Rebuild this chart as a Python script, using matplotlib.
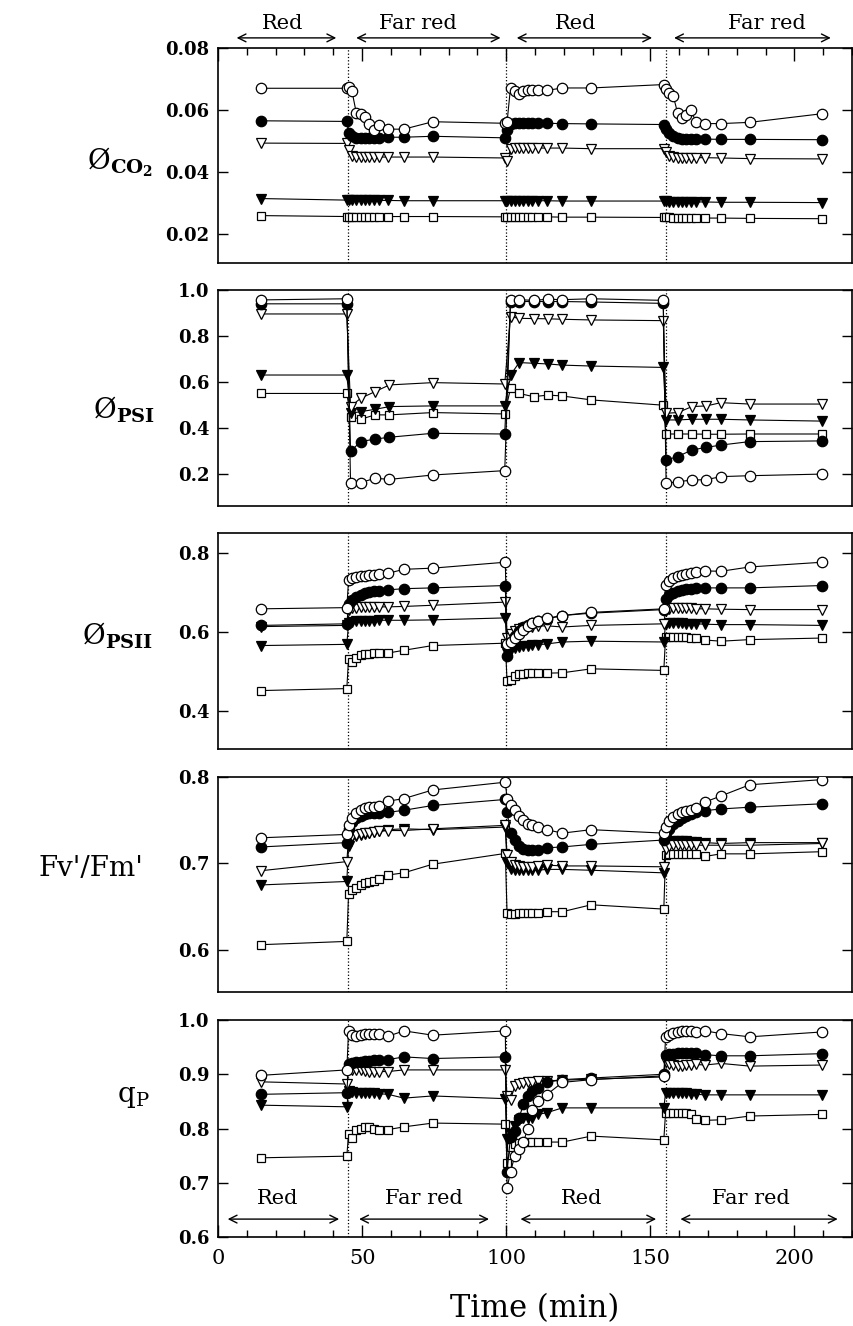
import matplotlib
matplotlib.use("Agg")
from matplotlib import pyplot as plt
from matplotlib.ticker import MultipleLocator

plt.rcParams['font.family'] = ['DejaVu Serif']
plt.rcParams['mathtext.fontset'] = 'dejavuserif'

# measurement times (min) - dense sampling (CO2 and fluorescence)
t = [15, 44.7,
     45.3, 46.5, 48, 49.5, 51, 52.5, 54, 56, 59, 64.5, 74.5, 99.7,
     100.3, 101.5, 103, 104.5, 106, 107.5, 109, 111, 114, 119.5, 129.5, 154.7,
     155.3, 156.5, 158, 159.5, 161, 162.5, 164, 166, 169, 174.5, 184.5, 209.7]

# sparse sampling for PSI
t_psi = [15, 44.7,
         46, 49.5, 54.5, 59.5, 74.5, 99.5,
         101.5, 104.5, 109.5, 114.5, 119.5, 129.5, 154.5,
         155.5, 159.5, 164.5, 169.5, 174.5, 184.5, 209.5]

switches = [45, 100, 155.5]

# --- Ø CO2 ---
co2_oc = [0.067, 0.067,
          0.0675, 0.066, 0.059, 0.0587, 0.0578, 0.0555, 0.0535, 0.0552, 0.0538, 0.0538, 0.0562, 0.0557,
          0.056, 0.0672, 0.066, 0.065, 0.066, 0.0663, 0.0666, 0.0665, 0.0663, 0.0671, 0.0671, 0.0682,
          0.0668, 0.0655, 0.0644, 0.059, 0.0574, 0.0585, 0.06, 0.056, 0.0556, 0.0556, 0.056, 0.0588]
co2_fc = [0.0565, 0.0563,
          0.0525, 0.0515, 0.051, 0.051, 0.051, 0.051, 0.051, 0.051, 0.0512, 0.0512, 0.0515, 0.051,
          0.0535, 0.0555, 0.0558, 0.0558, 0.0558, 0.0558, 0.0558, 0.0558, 0.0557, 0.0556, 0.0555, 0.0553,
          0.054, 0.0525, 0.0515, 0.051, 0.0507, 0.0506, 0.0506, 0.0506, 0.0506, 0.0505, 0.0505, 0.0504]
co2_ot = [0.0493, 0.0492,
          0.047, 0.045, 0.0447, 0.0447, 0.0447, 0.0447, 0.0447, 0.0448, 0.0448, 0.0448, 0.0448, 0.0445,
          0.0435, 0.0475, 0.0477, 0.0477, 0.0477, 0.0477, 0.0477, 0.0477, 0.0477, 0.0477, 0.0475, 0.0475,
          0.0465, 0.045, 0.0447, 0.0446, 0.0446, 0.0446, 0.0446, 0.0446, 0.0446, 0.0445, 0.0443, 0.0442]
co2_ft = [0.0314, 0.0309,
          0.0309, 0.0308, 0.0308, 0.0308, 0.0308, 0.0308, 0.0308, 0.0308, 0.0308, 0.0307, 0.0307, 0.0307,
          0.0307, 0.0307, 0.0307, 0.0307, 0.0307, 0.0307, 0.0307, 0.0307, 0.0307, 0.0306, 0.0306, 0.0306,
          0.0305, 0.0304, 0.0304, 0.0304, 0.0303, 0.0303, 0.0303, 0.0303, 0.0303, 0.0302, 0.0302, 0.0301]
co2_os = [0.0259, 0.0256,
          0.0256, 0.0256, 0.0256, 0.0256, 0.0256, 0.0256, 0.0256, 0.0256, 0.0256, 0.0256, 0.0256, 0.0255,
          0.0255, 0.0255, 0.0255, 0.0255, 0.0255, 0.0255, 0.0255, 0.0255, 0.0255, 0.0254, 0.0254, 0.0253,
          0.0253, 0.0253, 0.0252, 0.0252, 0.0252, 0.0252, 0.0252, 0.0252, 0.0251, 0.0251, 0.025, 0.0249]

# --- Ø PSI ---
psi_oc = [0.957, 0.962, 0.161, 0.164, 0.183, 0.178, 0.197, 0.216,
          0.955, 0.958, 0.955, 0.96, 0.958, 0.962, 0.955,
          0.161, 0.168, 0.175, 0.177, 0.19, 0.194, 0.201]
psi_fc = [0.94, 0.94, 0.30, 0.342, 0.353, 0.361, 0.378, 0.375,
          0.95, 0.95, 0.95, 0.95, 0.95, 0.948, 0.942,
          0.262, 0.277, 0.306, 0.317, 0.327, 0.342, 0.345]
psi_ot = [0.896, 0.896, 0.494, 0.53, 0.559, 0.588, 0.598, 0.592,
          0.884, 0.877, 0.876, 0.875, 0.873, 0.87, 0.867,
          0.465, 0.468, 0.494, 0.497, 0.511, 0.505, 0.505]
psi_ft = [0.631, 0.631, 0.465, 0.472, 0.482, 0.494, 0.497, 0.497,
          0.631, 0.685, 0.682, 0.679, 0.674, 0.67, 0.664,
          0.436, 0.436, 0.439, 0.439, 0.439, 0.436, 0.431]
psi_os = [0.551, 0.551, 0.45, 0.439, 0.458, 0.458, 0.468, 0.462,
          0.573, 0.551, 0.537, 0.544, 0.54, 0.523, 0.50,
          0.375, 0.375, 0.375, 0.374, 0.374, 0.375, 0.375]

# --- Ø PSII ---
psii_oc = [0.659, 0.662,
           0.732, 0.737, 0.74, 0.742, 0.743, 0.744, 0.745, 0.746, 0.749, 0.759, 0.762, 0.777,
           0.57, 0.575, 0.585, 0.595, 0.605, 0.615, 0.622, 0.628, 0.635, 0.642, 0.65, 0.659,
           0.72, 0.73, 0.737, 0.742, 0.745, 0.748, 0.75, 0.752, 0.755, 0.754, 0.765, 0.777]
psii_fc = [0.617, 0.621,
           0.67, 0.682, 0.688, 0.694, 0.698, 0.701, 0.703, 0.705, 0.707, 0.71, 0.712, 0.718,
           0.54, 0.575, 0.59, 0.604, 0.612, 0.617, 0.622, 0.628, 0.633, 0.642, 0.648, 0.657,
           0.685, 0.695, 0.70, 0.704, 0.707, 0.709, 0.71, 0.711, 0.712, 0.712, 0.712, 0.718]
psii_ot = [0.614, 0.617,
           0.655, 0.66, 0.662, 0.663, 0.663, 0.663, 0.664, 0.664, 0.664, 0.665, 0.668, 0.676,
           0.585, 0.596, 0.603, 0.607, 0.61, 0.612, 0.613, 0.615, 0.616, 0.613, 0.617, 0.621,
           0.655, 0.658, 0.66, 0.66, 0.66, 0.66, 0.66, 0.659, 0.659, 0.658, 0.657, 0.657]
psii_ft = [0.566, 0.569,
           0.622, 0.626, 0.627, 0.628, 0.628, 0.629, 0.629, 0.63, 0.63, 0.63, 0.631, 0.636,
           0.548, 0.555, 0.56, 0.562, 0.564, 0.566, 0.567, 0.568, 0.57, 0.575, 0.577, 0.575,
           0.62, 0.622, 0.622, 0.622, 0.622, 0.621, 0.621, 0.621, 0.62, 0.619, 0.619, 0.617]
psii_os = [0.452, 0.457,
           0.533, 0.524, 0.535, 0.542, 0.545, 0.545, 0.546, 0.546, 0.547, 0.554, 0.566, 0.572,
           0.476, 0.479, 0.49, 0.494, 0.495, 0.496, 0.496, 0.496, 0.496, 0.497, 0.507, 0.503,
           0.587, 0.587, 0.587, 0.587, 0.587, 0.587, 0.586, 0.585, 0.58, 0.577, 0.581, 0.585]

# --- Fv'/Fm' ---
fvfm_oc = [0.7296, 0.7335,
           0.744, 0.752, 0.758, 0.762, 0.764, 0.765, 0.765, 0.766, 0.772, 0.775, 0.785, 0.794,
           0.775, 0.768, 0.762, 0.755, 0.75, 0.746, 0.744, 0.742, 0.739, 0.735, 0.739, 0.735,
           0.742, 0.749, 0.754, 0.757, 0.759, 0.761, 0.762, 0.764, 0.771, 0.778, 0.791, 0.797]
fvfm_fc = [0.719, 0.724,
           0.74, 0.748, 0.752, 0.755, 0.757, 0.758, 0.758, 0.758, 0.759, 0.7615, 0.767, 0.774,
           0.76, 0.735, 0.727, 0.72, 0.717, 0.715, 0.715, 0.716, 0.718, 0.719, 0.722, 0.727,
           0.735, 0.74, 0.745, 0.749, 0.752, 0.755, 0.757, 0.759, 0.761, 0.763, 0.765, 0.769]
fvfm_ot = [0.6915, 0.702,
           0.729, 0.732, 0.733, 0.734, 0.735, 0.735, 0.736, 0.737, 0.738, 0.738, 0.74, 0.744,
           0.71, 0.702, 0.698, 0.697, 0.696, 0.696, 0.696, 0.697, 0.698, 0.697, 0.697, 0.696,
           0.717, 0.72, 0.721, 0.721, 0.721, 0.721, 0.721, 0.721, 0.721, 0.721, 0.721, 0.723]
fvfm_ft = [0.675, 0.679,
           0.72, 0.73, 0.732, 0.733, 0.734, 0.735, 0.736, 0.737, 0.739, 0.74, 0.739, 0.742,
           0.70, 0.694, 0.692, 0.692, 0.692, 0.692, 0.692, 0.692, 0.693, 0.693, 0.692, 0.689,
           0.72, 0.725, 0.726, 0.726, 0.726, 0.726, 0.725, 0.725, 0.724, 0.723, 0.724, 0.724]
fvfm_os = [0.6058, 0.6096,
           0.665, 0.669, 0.672, 0.675, 0.677, 0.678, 0.68, 0.682, 0.6865, 0.689, 0.699, 0.7115,
           0.643, 0.641, 0.641, 0.642, 0.642, 0.643, 0.643, 0.643, 0.644, 0.644, 0.652, 0.647,
           0.71, 0.711, 0.711, 0.711, 0.711, 0.711, 0.711, 0.711, 0.708, 0.711, 0.711, 0.7135]

# --- qP ---
qp_oc = [0.898, 0.908,
         0.98, 0.972, 0.971, 0.973, 0.974, 0.975, 0.974, 0.975, 0.97, 0.98, 0.972, 0.98,
         0.69, 0.72, 0.75, 0.762, 0.775, 0.80, 0.835, 0.85, 0.862, 0.885, 0.89, 0.897,
         0.968, 0.972, 0.976, 0.978, 0.979, 0.979, 0.979, 0.978, 0.98, 0.975, 0.969, 0.978]
qp_fc = [0.863, 0.866,
         0.918, 0.921, 0.922, 0.923, 0.924, 0.925, 0.926, 0.927, 0.927, 0.932, 0.929, 0.932,
         0.72, 0.785, 0.795, 0.82, 0.845, 0.86, 0.87, 0.875, 0.885, 0.89, 0.893, 0.90,
         0.935, 0.937, 0.938, 0.939, 0.939, 0.939, 0.939, 0.939, 0.936, 0.934, 0.934, 0.938]
qp_ot = [0.886, 0.882,
         0.91, 0.908, 0.907, 0.907, 0.906, 0.905, 0.905, 0.905, 0.905, 0.908, 0.908, 0.908,
         0.86, 0.853, 0.878, 0.882, 0.884, 0.885, 0.886, 0.887, 0.888, 0.889, 0.891, 0.895,
         0.923, 0.919, 0.917, 0.916, 0.916, 0.917, 0.917, 0.918, 0.917, 0.92, 0.915, 0.917]
qp_ft = [0.843, 0.84,
         0.87, 0.867, 0.866, 0.866, 0.866, 0.866, 0.865, 0.864, 0.863, 0.856, 0.86, 0.855,
         0.78, 0.79, 0.805, 0.815, 0.82, 0.82, 0.82, 0.826, 0.829, 0.838, 0.838, 0.838,
         0.865, 0.865, 0.865, 0.865, 0.865, 0.865, 0.864, 0.863, 0.862, 0.862, 0.862, 0.862]
qp_os = [0.746, 0.749,
         0.79, 0.783, 0.797, 0.80, 0.802, 0.802, 0.80, 0.797, 0.798, 0.803, 0.81, 0.808,
         0.737, 0.765, 0.772, 0.774, 0.775, 0.775, 0.775, 0.775, 0.775, 0.775, 0.786, 0.779,
         0.829, 0.829, 0.828, 0.828, 0.828, 0.828, 0.827, 0.818, 0.815, 0.816, 0.823, 0.826]

panels = [
    (t, [co2_os, co2_ft, co2_ot, co2_fc, co2_oc], (0.0106, 0.08), [0.02, 0.04, 0.06, 0.08], "%.2f"),
    (t_psi, [psi_os, psi_ft, psi_ot, psi_fc, psi_oc], (0.0625, 1.0), [0.2, 0.4, 0.6, 0.8, 1.0], "%.1f"),
    (t, [psii_os, psii_ft, psii_ot, psii_fc, psii_oc], (0.304, 0.851), [0.4, 0.6, 0.8], "%.1f"),
    (t, [fvfm_os, fvfm_ft, fvfm_ot, fvfm_fc, fvfm_oc], (0.551, 0.8), [0.6, 0.7, 0.8], "%.1f"),
    (t, [qp_os, qp_ft, qp_ot, qp_fc, qp_oc], (0.6, 1.0), [0.6, 0.7, 0.8, 0.9, 1.0], "%.1f"),
]
# marker, face colour, size  (same order as series lists above)
styles = [('s', 'white', 5.5), ('v', 'black', 7), ('v', 'white', 7.5),
          ('o', 'black', 7.5), ('o', 'white', 7.5)]

# axes frames in pixels (top, bottom) on a 854x1326 figure
frames = [(48, 263), (290, 506), (533, 749), (777, 992), (1020, 1237)]
W, H = 854, 1326
left, right = 218, 852

fig = plt.figure(figsize=(W / 100, H / 100), dpi=100)
axes = []
for (tt, series, ylim, yt, fmt), (top, bot) in zip(panels, frames):
    ax = fig.add_axes([left / W, 1 - bot / H, (right - left) / W, (bot - top) / H])
    for s in switches:
        ax.axvline(s, color='black', ls=':', lw=0.9, zorder=1)
    for vals, (m, fc, ms) in zip(series, styles):
        ax.plot(tt, vals, color='black', lw=0.8, marker=m, ms=ms, mfc=fc,
                mec='black', mew=0.9, zorder=3)
    ax.set_xlim(0, 220)
    ax.set_ylim(*ylim)
    ax.set_yticks(yt)
    ax.set_yticklabels([fmt % v for v in yt])
    ax.xaxis.set_major_locator(MultipleLocator(50))
    ax.xaxis.set_minor_locator(MultipleLocator(10))
    ax.tick_params(axis='y', direction='in', left=True, right=True, length=7,
                   width=1, labelsize=13, pad=6)
    ax.tick_params(axis='x', which='both', direction='in', bottom=False, top=False,
                   labelbottom=False)
    for sp in ax.spines.values():
        sp.set_linewidth(1.2)
    for lab in ax.get_yticklabels():
        lab.set_fontweight('bold')
    axes.append(ax)

# top ticks on first panel, bottom ticks + labels on last panel
axes[0].tick_params(axis='x', which='major', top=True, length=9, width=1)
axes[0].tick_params(axis='x', which='minor', top=True, length=5, width=1)
axes[-1].tick_params(axis='x', which='major', bottom=True, labelbottom=True,
                     length=9, width=1, labelsize=15, pad=9)
axes[-1].tick_params(axis='x', which='minor', bottom=True, length=5, width=1)
axes[-1].set_xlabel("Time (min)", fontsize=22, labelpad=18)

# light period arrows
arrow_kw = dict(arrowstyle='<->', lw=1.0, color='black', mutation_scale=14)
top_arrows = [(5.5, 42), (47, 99), (102.7, 151.6), (157.3, 213.6)]
top_text = [(22.4, "Red"), (69.5, "Far red"), (124, "Red"), (190.5, "Far red")]
ax0 = axes[0]
tr0 = ax0.get_xaxis_transform()
for (a, b) in top_arrows:
    ax0.annotate("", xy=(a, 1.047), xytext=(b, 1.047), xycoords=tr0,
                 textcoords=tr0, arrowprops=arrow_kw, annotation_clip=False)
for x, s in top_text:
    ax0.text(x, 1.115, s, transform=tr0, ha='center', va='center', fontsize=15)

bot_arrows = [(2.4, 43), (48, 95), (104, 153), (159.5, 216)]
bot_text = [(20.8, "Red"), (71.3, "Far red"), (126, "Red"), (184.8, "Far red")]
ax4 = axes[-1]
for (a, b) in bot_arrows:
    ax4.annotate("", xy=(a, 0.633), xytext=(b, 0.633), arrowprops=arrow_kw)
for x, s in bot_text:
    ax4.text(x, 0.671, s, ha='center', va='center', fontsize=15)

# y labels
ylabels = [(r'$\mathrm{Ø}_{\mathbf{CO_2}}$', 153, 162),
           (r'$\mathrm{Ø}_{\mathbf{PSI}}$', 155, 410),
           (r'$\mathrm{Ø}_{\mathbf{PSII}}$', 153, 636),
           ("Fv'/Fm'", 143, 868),
           (r'q$_\mathrm{P}$', 150, 1097)]
for s, x, y in ylabels:
    fig.text(x / W, 1 - y / H, s, ha='right', va='center', fontsize=20)

fig.savefig("out.png", dpi=100)
